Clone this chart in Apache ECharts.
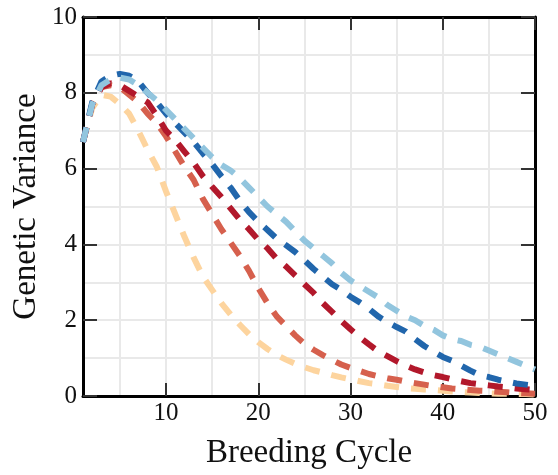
<!DOCTYPE html>
<html>
<head>
<meta charset="utf-8">
<script src="https://cdn.jsdelivr.net/npm/echarts@6/dist/echarts.min.js"></script>
<style>
html,body{margin:0;padding:0;background:#fff;}
#chart{width:558px;height:475px;}
</style>
</head>
<body>
<div id="chart"></div>
<script>
// Breeding cycles 1..50
const cycles = [1,2,3,4,5,6,7,8,9,10,11,12,13,14,15,16,17,18,19,20,21,22,23,24,25,26,27,28,29,30,31,32,33,34,35,36,37,38,39,40,41,42,43,44,45,46,47,48,49,50];

const seriesLightOrange = [6.7,7.6,7.95,7.9,7.7,7.45,7.0,6.5,6.05,5.4,4.8,4.2,3.65,3.15,2.8,2.45,2.15,1.88,1.63,1.42,1.24,1.08,0.96,0.85,0.76,0.68,0.62,0.55,0.49,0.44,0.39,0.34,0.31,0.27,0.24,0.21,0.19,0.17,0.16,0.14,0.12,0.1,0.09,0.08,0.07,0.06,0.06,0.05,0.05,0.04];
const seriesSalmon = [6.7,7.7,8.15,8.2,8.15,7.95,7.75,7.45,7.2,6.85,6.45,6.05,5.7,5.2,4.8,4.4,4.05,3.7,3.3,2.85,2.45,2.1,1.85,1.6,1.38,1.22,1.08,0.95,0.83,0.74,0.66,0.58,0.52,0.47,0.43,0.38,0.34,0.3,0.26,0.23,0.2,0.18,0.16,0.14,0.13,0.11,0.1,0.08,0.07,0.06];
const seriesDarkRed = [6.7,7.7,8.15,8.25,8.2,8.05,7.9,7.75,7.4,7.0,6.75,6.45,6.15,5.8,5.52,5.25,4.95,4.65,4.4,4.12,3.9,3.62,3.42,3.18,2.95,2.72,2.45,2.22,1.98,1.76,1.55,1.36,1.18,1.05,0.92,0.8,0.7,0.62,0.55,0.5,0.44,0.39,0.34,0.31,0.28,0.25,0.23,0.2,0.18,0.16];
const seriesDarkBlue = [6.7,7.75,8.3,8.45,8.5,8.45,8.3,8.0,7.75,7.45,7.2,6.95,6.7,6.4,6.12,5.8,5.5,5.15,4.85,4.6,4.38,4.15,3.98,3.8,3.58,3.35,3.15,2.95,2.8,2.62,2.47,2.3,2.1,1.95,1.82,1.7,1.5,1.32,1.17,1.03,0.93,0.8,0.67,0.55,0.5,0.43,0.38,0.33,0.3,0.27];
const seriesLightBlue = [6.7,7.7,8.2,8.35,8.4,8.35,8.2,8.0,7.8,7.55,7.3,7.05,6.8,6.55,6.3,6.1,5.95,5.75,5.5,5.25,5.0,4.8,4.6,4.35,4.1,3.9,3.7,3.5,3.25,3.05,2.9,2.75,2.6,2.4,2.25,2.1,2.0,1.85,1.75,1.6,1.5,1.45,1.35,1.3,1.2,1.1,1.0,0.9,0.8,0.7];

const xTickValues = [10,20,30,40,50];
const xGridValues = [5,10,15,20,25,30,35,40,45];
const yTickValues = [0,2,4,6,8,10];

const xTitle = 'Breeding Cycle';
const yTitle = 'Genetic Variance';

const colors = ['#fdd49e','#d6604d','#b2182b','#2166ac','#92c5de'];
const seriesData = [seriesLightOrange, seriesSalmon, seriesDarkRed, seriesDarkBlue, seriesLightBlue];

const FONT = '"Liberation Serif", serif';
const gridLineColor = '#e9e9e9';
const tickColor = '#333333';

const chart = echarts.init(document.getElementById('chart'), null, {renderer:'canvas'});

const xRange = {min: 1, max: 50};
const option = {
  backgroundColor: '#ffffff',
  animation: false,
  grid: {left: 83, right: 23, top: 17, bottom: 71, containLabel: false},
  xAxis: [
    { // grid lines
      type: 'value', ...xRange, position: 'bottom',
      axisLine: {show: false},
      axisTick: {show: false, customValues: xGridValues},
      axisLabel: {show: false, customValues: xGridValues},
      splitLine: {show: true, lineStyle: {color: gridLineColor, width: 2}}
    },
    { // main bottom axis
      type: 'value', ...xRange, position: 'bottom',
      name: xTitle, nameLocation: 'middle', nameGap: 41, nameMoveOverlap: false,
      nameTextStyle: {fontFamily: FONT, fontSize: 33, color: '#111'},
      axisLine: {show: true, onZero: false, lineStyle: {color: '#000', width: 3}},
      axisTick: {show: true, inside: true, length: 13, customValues: xTickValues, lineStyle: {color: tickColor, width: 2}},
      axisLabel: {show: true, customValues: xTickValues, fontFamily: FONT, fontSize: 25, color: '#111', margin: 5},
      splitLine: {show: false}
    },
    { // top box axis
      type: 'value', ...xRange, position: 'top',
      axisLine: {show: true, onZero: false, lineStyle: {color: '#000', width: 3}},
      axisTick: {show: true, inside: true, length: 13, customValues: xTickValues, lineStyle: {color: tickColor, width: 2}},
      axisLabel: {show: false, customValues: xTickValues},
      splitLine: {show: false}
    }
  ],
  yAxis: [
    { // grid
      type: 'value', min: 0, max: 10, interval: 1, position: 'left',
      axisLine: {show: false}, axisTick: {show: false}, axisLabel: {show: false},
      splitLine: {show: true, lineStyle: {color: gridLineColor, width: 2}}
    },
    { // main left axis
      type: 'value', min: 0, max: 10, interval: 2, position: 'left',
      name: yTitle, nameLocation: 'middle', nameGap: 40, nameRotate: 90, nameMoveOverlap: false,
      nameTextStyle: {fontFamily: FONT, fontSize: 33, color: '#111'},
      axisLine: {show: true, onZero: false, lineStyle: {color: '#000', width: 3}},
      axisTick: {show: true, inside: true, length: 14, lineStyle: {color: tickColor, width: 2}},
      axisLabel: {show: true, fontFamily: FONT, fontSize: 25, color: '#111', margin: 6},
      splitLine: {show: false}
    },
    { // right box axis
      type: 'value', min: 0, max: 10, interval: 2, position: 'right',
      axisLine: {show: true, onZero: false, lineStyle: {color: '#000', width: 3}},
      axisTick: {show: true, inside: true, length: 14, lineStyle: {color: tickColor, width: 2}},
      axisLabel: {show: false},
      splitLine: {show: false}
    }
  ],
  series: seriesData.map((vals, i) => ({
    type: 'line',
    xAxisIndex: 1, yAxisIndex: 1,
    data: cycles.map((c, j) => [c, vals[j]]),
    showSymbol: false,
    smooth: false,
    clip: true,
    lineStyle: {color: colors[i], width: 6, type: [15, 12], cap: 'butt'},
    z: 3 + i
  }))
};
chart.setOption(option);
</script>
</body>
</html>
